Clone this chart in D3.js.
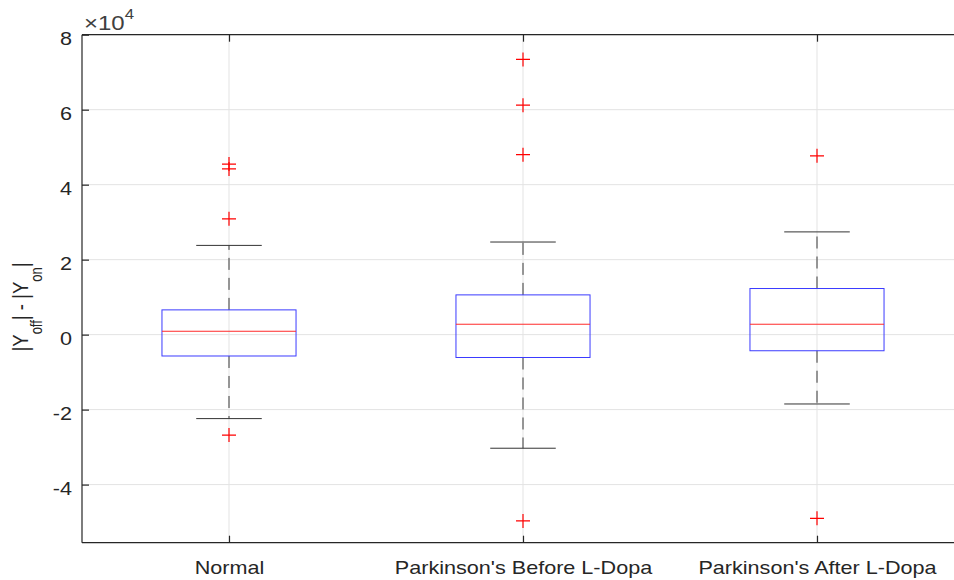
<!DOCTYPE html>
<html>
<head>
<meta charset="utf-8">
<script src="https://cdn.jsdelivr.net/npm/d3@7"></script>
<style>
  html, body { margin: 0; padding: 0; background: #fff; overflow: hidden; }
  svg { display: block; font-family: "Liberation Sans", Arial, Helvetica, sans-serif; }
</style>
</head>
<body>
<svg id="chart" width="954" height="580"></svg>
<script>
// ---- data ----
const categories = ["Normal", "Parkinson's Before L-Dopa", "Parkinson's After L-Dopa"];
const q1 = [-5700, -6100, -4300];
const medians = [900, 2770, 2770];
const q3 = [6600, 10600, 12300];
const whiskerLow = [-22400, -30300, -18500];
const whiskerHigh = [23800, 24700, 27400];
const outliers = [
  [45500, 44200, 30900, -26800],
  [73400, 61200, 48000, -49700],
  [47700, -49000]
];
const yTicks = [-40000, -20000, 0, 20000, 40000, 60000, 80000];
const yDomain = [-55500, 80000];
const exponent = 4;

// ---- layout ----
const W = 954, H = 580;
const pLeft = 82, pRight = 964, pTop = 34.7, pBottom = 542.7;
const textScale = 1.2;
const axisColor = "#262626";

const svg = d3.select("#chart");
svg.append("rect").attr("width", W).attr("height", H).attr("fill", "#fff");

const x = d3.scalePoint().domain(categories).range([pLeft, pRight]).padding(0.5);
const y = d3.scaleLinear().domain(yDomain).range([pBottom, pTop]);
const step = x.step();
const boxHalf = step * 0.228;
const capHalf = step * 0.1115;

const data = categories.map((c, i) => ({
  c, q1: q1[i], med: medians[i], q3: q3[i],
  lo: whiskerLow[i], hi: whiskerHigh[i], out: outliers[i]
}));

// grid
const grid = svg.append("g");
grid.selectAll("line.h").data(yTicks).join("line")
  .attr("x1", pLeft).attr("x2", W)
  .attr("y1", d => y(d)).attr("y2", d => y(d))
  .attr("stroke", "#e3e3e3").attr("stroke-width", 1);
grid.selectAll("line.v").data(categories).join("line")
  .attr("x1", d => x(d)).attr("x2", d => x(d))
  .attr("y1", pTop).attr("y2", pBottom)
  .attr("stroke", "#e3e3e3").attr("stroke-width", 1);

// boxes
const g = svg.append("g");
const groups = g.selectAll("g.box").data(data).join("g").attr("class", "box");

// whiskers (dashed)
groups.append("line")
  .attr("x1", d => x(d.c)).attr("x2", d => x(d.c))
  .attr("y1", d => y(d.q3)).attr("y2", d => y(d.hi))
  .attr("stroke", "#3a3a3a").attr("stroke-width", 1).attr("stroke-dasharray", "12,8");
groups.append("line")
  .attr("x1", d => x(d.c)).attr("x2", d => x(d.c))
  .attr("y1", d => y(d.q1)).attr("y2", d => y(d.lo))
  .attr("stroke", "#3a3a3a").attr("stroke-width", 1).attr("stroke-dasharray", "12,8");
// caps
groups.append("line")
  .attr("x1", d => x(d.c) - capHalf).attr("x2", d => x(d.c) + capHalf)
  .attr("y1", d => y(d.hi)).attr("y2", d => y(d.hi))
  .attr("stroke", "#333").attr("stroke-width", 1);
groups.append("line")
  .attr("x1", d => x(d.c) - capHalf).attr("x2", d => x(d.c) + capHalf)
  .attr("y1", d => y(d.lo)).attr("y2", d => y(d.lo))
  .attr("stroke", "#333").attr("stroke-width", 1);
// box
groups.append("rect")
  .attr("x", d => x(d.c) - boxHalf).attr("width", boxHalf * 2)
  .attr("y", d => y(d.q3)).attr("height", d => y(d.q1) - y(d.q3))
  .attr("fill", "none").attr("stroke", "#3b3bff").attr("stroke-width", 1);
// median
groups.append("line")
  .attr("x1", d => x(d.c) - boxHalf).attr("x2", d => x(d.c) + boxHalf)
  .attr("y1", d => y(d.med)).attr("y2", d => y(d.med))
  .attr("stroke", "#ff2a2a").attr("stroke-width", 1);
// outliers as '+'
const plus = (s) => `M${-s},0H${s}M0,${-s}V${s}`;
groups.each(function(d) {
  d3.select(this).selectAll("path.out").data(d.out).join("path")
    .attr("class", "out")
    .attr("transform", v => `translate(${x(d.c)},${y(v)})`)
    .attr("d", plus(7))
    .attr("fill", "none").attr("stroke", "#ff0000").attr("stroke-width", 1.2);
});

// axes (the right-hand box edge lies beyond the visible canvas)
const fmt = v => String(v / Math.pow(10, exponent));
const axL = svg.append("g").attr("transform", `translate(${pLeft},0)`)
  .call(d3.axisLeft(y).tickValues(yTicks).tickFormat(fmt).tickSize(-7).tickPadding(10));
const axB = svg.append("g").attr("transform", `translate(0,${pBottom})`)
  .call(d3.axisBottom(x).tickSize(-7).tickPadding(10));
const axT = svg.append("g").attr("transform", `translate(0,${pTop})`)
  .call(d3.axisTop(x).tickFormat("").tickSize(-7));

[axL, axB, axT].forEach(a => {
  a.select(".domain").attr("stroke", axisColor).attr("stroke-width", 1.2);
  a.selectAll(".tick line").attr("stroke", axisColor).attr("stroke-width", 1.2);
});
axL.select(".domain").attr("d", `M0,${pTop}V${pBottom}`);
axB.select(".domain").attr("d", `M${pLeft},0H${W}`);
axT.select(".domain").attr("d", `M${pLeft},0H${W}`);

axL.selectAll(".tick text")
  .attr("x", null).attr("dy", null)
  .attr("transform", "translate(-10,3.6) scale(" + textScale + ",1)")
  .attr("dominant-baseline", "central")
  .attr("fill", axisColor).attr("font-size", 18)
  .attr("font-family", "Liberation Sans, Arial, sans-serif");

axB.selectAll(".tick text")
  .attr("y", null).attr("dy", null)
  .attr("transform", "translate(0,31.5) scale(" + textScale + ",1)")
  .attr("fill", axisColor).attr("font-size", 18)
  .attr("font-family", "Liberation Sans, Arial, sans-serif");

// exponent label
const ex = svg.append("text")
  .attr("transform", `translate(84,30) scale(${textScale},1)`)
  .attr("fill", "#404040").attr("font-size", 20)
  .attr("font-family", "Liberation Sans, Arial, sans-serif");
ex.append("tspan").text("\u00d710");
ex.append("tspan").attr("font-size", 14).attr("dy", -11.5).text(String(exponent));

// y label
const yl = svg.append("text")
  .attr("transform", `translate(28.3,307) scale(${textScale},1) rotate(-90)`)
  .attr("text-anchor", "middle")
  .attr("fill", axisColor).attr("font-size", 18.5)
  .attr("font-family", "Liberation Sans, Arial, sans-serif");
yl.append("tspan").text("|Y");
yl.append("tspan").attr("font-size", 13).attr("dy", 11).text("off");
yl.append("tspan").attr("dy", -11).text("| - |Y");
yl.append("tspan").attr("font-size", 13).attr("dy", 11).text("on");
yl.append("tspan").attr("dy", -11).text("|");
</script>
</body>
</html>
